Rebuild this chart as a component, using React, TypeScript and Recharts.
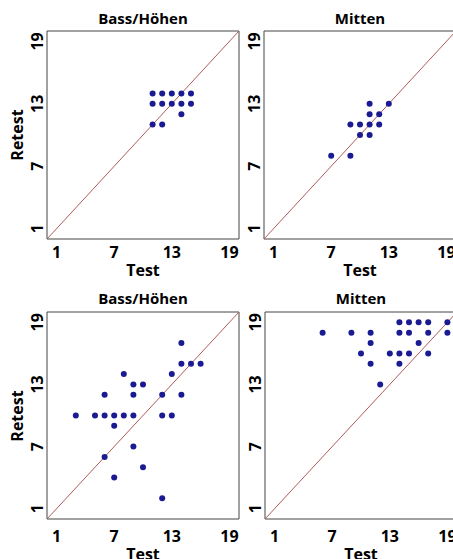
import { ScatterChart, Scatter, XAxis, YAxis, ReferenceArea, ReferenceLine } from "recharts";

const FONT = '"Open Sans", "DejaVu Sans", sans-serif';

// axis setup shared by all four panels
const domain = [0, 20];
const labelTicks = [1, 7, 13, 19];
const minorTicks = [5, 10, 15];

// Test / Retest scores
const topLeftPoints = [
  { test: 11, retest: 14 }, { test: 12, retest: 14 }, { test: 13, retest: 14 }, { test: 14, retest: 14 }, { test: 15, retest: 14 },
  { test: 11, retest: 13 }, { test: 12, retest: 13 }, { test: 13, retest: 13 }, { test: 14, retest: 13 }, { test: 15, retest: 13 },
  { test: 14, retest: 12 }, { test: 11, retest: 11 }, { test: 12, retest: 11 },
];

const topRightPoints = [
  { test: 11, retest: 13 }, { test: 13, retest: 13 },
  { test: 11, retest: 12 }, { test: 12, retest: 12 },
  { test: 9, retest: 11 }, { test: 10, retest: 11 }, { test: 11, retest: 11 }, { test: 12, retest: 11 },
  { test: 10, retest: 10 }, { test: 11, retest: 10 },
  { test: 7, retest: 8 }, { test: 9, retest: 8 },
];

const bottomLeftPoints = [
  { test: 14, retest: 17 },
  { test: 14, retest: 15 }, { test: 15, retest: 15 }, { test: 16, retest: 15 },
  { test: 8, retest: 14 }, { test: 13, retest: 14 },
  { test: 9, retest: 13 }, { test: 10, retest: 13 },
  { test: 6, retest: 12 }, { test: 9, retest: 12 }, { test: 12, retest: 12 }, { test: 14, retest: 12 },
  { test: 3, retest: 10 }, { test: 5, retest: 10 }, { test: 6, retest: 10 }, { test: 7, retest: 10 },
  { test: 8, retest: 10 }, { test: 9, retest: 10 }, { test: 12, retest: 10 }, { test: 13, retest: 10 },
  { test: 7, retest: 9 }, { test: 9, retest: 7 }, { test: 6, retest: 6 },
  { test: 10, retest: 5 }, { test: 7, retest: 4 }, { test: 12, retest: 2 },
];

const bottomRightPoints = [
  { test: 14, retest: 19 }, { test: 15, retest: 19 }, { test: 16, retest: 19 }, { test: 17, retest: 19 }, { test: 19, retest: 19 },
  { test: 6, retest: 18 }, { test: 9, retest: 18 }, { test: 11, retest: 18 }, { test: 14, retest: 18 },
  { test: 15, retest: 18 }, { test: 17, retest: 18 }, { test: 19, retest: 18 },
  { test: 11, retest: 17 }, { test: 16, retest: 17 },
  { test: 10, retest: 16 }, { test: 13, retest: 16 }, { test: 14, retest: 16 }, { test: 15, retest: 16 }, { test: 17, retest: 16 },
  { test: 11, retest: 15 }, { test: 14, retest: 15 },
  { test: 12, retest: 13 },
];

const textStyle = { fontFamily: FONT, fontWeight: 700, color: "#000" };

const YTick = (props: any) => {
  const { x, y, payload } = props;
  return (
    <text
      transform={`translate(${x - 4.5},${y}) rotate(-90)`}
      textAnchor="middle"
      fontFamily={FONT}
      fontWeight={700}
      fontSize={16}
      fill="#000"
    >
      {payload.value}
    </text>
  );
};

const Dot = (props: any) => <circle cx={props.cx} cy={props.cy} r={3} fill="#1a1a92" />;

type PanelProps = {
  title: string;
  data: { test: number; retest: number }[];
  left: number;
  top: number;
  height: number;
  tickMargin: number;
  retest?: boolean;
};

const Panel = ({ title, data, left, top, height, tickMargin, retest }: PanelProps) => {
  const plotLeft = left + 47;
  const plotBottom = top + height - 23;
  return (
    <>
      <div
        style={{
          ...textStyle,
          position: "absolute",
          left: plotLeft,
          width: 192,
          top: top + 8 - (top > 0 ? 1 : 0),
          fontSize: 15,
          lineHeight: "20px",
          textAlign: "center",
        }}
      >
        {title}
      </div>
      {retest && (
        <div
          style={{
            ...textStyle,
            position: "absolute",
            left: -13,
            top: top + 31 + (plotBottom - top - 31) / 2 - 10,
            width: 60,
            fontSize: 16,
            lineHeight: "20px",
            textAlign: "center",
            transform: "rotate(-90deg)",
          }}
        >
          Retest
        </div>
      )}
      <div
        style={{
          ...textStyle,
          position: "absolute",
          left: plotLeft,
          width: 192,
          top: plotBottom + 19 + tickMargin,
          fontSize: 16,
          lineHeight: "20px",
          textAlign: "center",
        }}
      >
        Test
      </div>
      <div style={{ position: "absolute", left, top }}>
        <ScatterChart width={241} height={height} margin={{ top: 31, right: 2, left: 0, bottom: 0 }}>
          <XAxis
            xAxisId="m"
            type="number"
            dataKey="test"
            domain={domain}
            ticks={minorTicks}
            height={0}
            mirror
            tick={false}
            tickSize={4}
            axisLine={false}
            tickLine={{ stroke: "#888" }}
          />
          <YAxis
            yAxisId="m"
            type="number"
            dataKey="retest"
            domain={domain}
            ticks={minorTicks}
            width={0}
            mirror
            tick={false}
            tickSize={4}
            axisLine={false}
            tickLine={{ stroke: "#888" }}
          />
          <XAxis
            type="number"
            dataKey="test"
            domain={domain}
            ticks={labelTicks}
            height={23}
            axisLine={false}
            tickLine={false}
            tickMargin={tickMargin}
            tick={{ fill: "#000", fontSize: 16, fontWeight: 700, fontFamily: FONT }}
          />
          <YAxis
            type="number"
            dataKey="retest"
            domain={domain}
            ticks={labelTicks}
            width={47}
            axisLine={false}
            tickLine={false}
            tickSize={0}
            tickMargin={0}
            tick={<YTick />}
          />
          <ReferenceArea x1={0} x2={20} y1={0} y2={20} fill="none" stroke="#444" strokeWidth={1} />
          <ReferenceLine
            segment={[
              { x: domain[0], y: domain[0] },
              { x: domain[1], y: domain[1] },
            ]}
            stroke="#b05a5a"
            strokeWidth={1}
          />
          <Scatter data={data} shape={<Dot />} isAnimationActive={false} />
        </ScatterChart>
      </div>
    </>
  );
};

export default function App() {
  return (
    <div
      style={{
        position: "fixed",
        left: 0,
        top: 0,
        width: 453,
        height: 559,
        overflow: "hidden",
        background: "#fff",
      }}
    >
      <Panel title="Bass/Höhen" data={topLeftPoints} left={0} top={0} height={262} tickMargin={2} retest />
      <Panel title="Mitten" data={topRightPoints} left={217} top={0} height={262} tickMargin={2} />
      <Panel title="Bass/Höhen" data={bottomLeftPoints} left={0} top={281} height={261} tickMargin={6} retest />
      <Panel title="Mitten" data={bottomRightPoints} left={218} top={281} height={261} tickMargin={6} />
    </div>
  );
}
